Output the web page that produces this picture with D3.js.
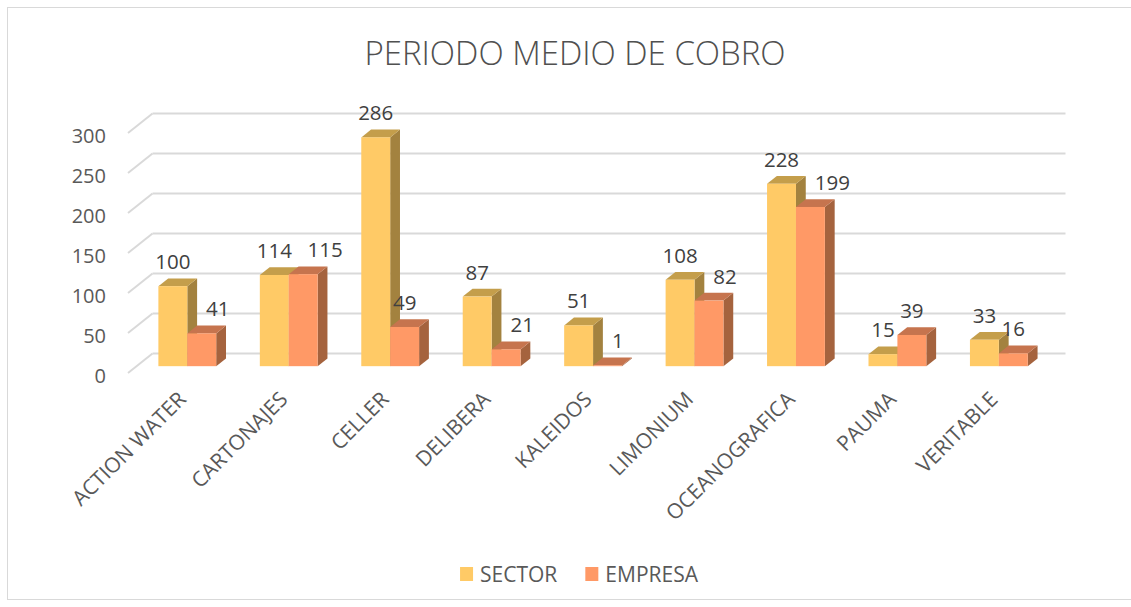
<!DOCTYPE html>
<html>
<head>
<meta charset="utf-8">
<script src="https://cdn.jsdelivr.net/npm/d3@7"></script>
<style>
  html, body { margin: 0; padding: 0; background: #fff; }
  svg { display: block; }
</style>
</head>
<body>
<div id="chart"></div>
<script>
// ── Data ──
const categories = ['ACTION WATER', 'CARTONAJES', 'CELLER', 'DELIBERA', 'KALEIDOS',
                    'LIMONIUM', 'OCEANOGRAFICA', 'PAUMA', 'VERITABLE'];
const seriesNames = ['SECTOR', 'EMPRESA'];
const sectorValues = [100, 114, 286, 87, 51, 108, 228, 15, 33];
const empresaValues = [41, 115, 49, 21, 1, 82, 199, 39, 16];
const yTicks = [0, 50, 100, 150, 200, 250, 300];

// face colours: front, top, side
const COLORS = {
    SECTOR:  { front: '#FFCA66', top: '#C49E4B', side: '#A3823F' },
    EMPRESA: { front: '#FF9966', top: '#C6744E', side: '#A5633E' },
};
const FONT = "'Open Sans', 'Noto Sans', sans-serif";
const TEXT = '#595959';

const width = 1131, height = 607;

// oblique 3D projection: depth d in [0,1], front -> back wall
const DX = 24.5, DY = -19.5;
const floorLeft = 128, floorRight = 1041;
const barD0 = 0.35, barD1 = 0.75;

const svg = d3.select('#chart').append('svg')
    .attr('width', width).attr('height', height);

// outer frame
svg.append('rect')
    .attr('x', 7.5).attr('y', 7.5)
    .attr('width', 1140).attr('height', 592)
    .attr('fill', '#fff').attr('stroke', '#d9d9d9');

// title
svg.append('text')
    .attr('x', 575).attr('y', 52)
    .attr('text-anchor', 'middle').attr('dominant-baseline', 'central')
    .attr('font-family', FONT).attr('font-size', '33px').attr('font-weight', 300)
    .attr('fill', '#505050')
    .text('PERIODO MEDIO DE COBRO');

// scales (front plane)
const x = d3.scaleBand().domain(categories)
    .range([floorLeft, floorRight])
    .paddingInner(0.43).paddingOuter(0.215);
const xSub = d3.scaleBand().domain(seriesNames).range([0, x.bandwidth()]);
const y = d3.scaleLinear().domain([0, 300]).range([373, 133]);

const proj = (px, py, d) => [px + DX * d, py + DY * d];

// ── Walls: gridlines on back wall + diagonals on side wall ──
const grid = svg.append('g')
    .attr('stroke', '#d9d9d9').attr('stroke-width', 2).attr('fill', 'none');
yTicks.forEach(t => {
    const [bx0, by] = proj(floorLeft, y(t), 1);
    const [bx1] = proj(floorRight, y(t), 1);
    grid.append('line').attr('x1', floorLeft).attr('y1', y(t)).attr('x2', bx0).attr('y2', by);
    grid.append('line').attr('x1', bx0).attr('y1', by).attr('x2', bx1).attr('y2', by);
});

// y tick labels
svg.append('g').selectAll('text')
    .data(yTicks)
    .join('text')
    .attr('x', 106).attr('y', d => y(d) + 2)
    .attr('text-anchor', 'end').attr('dominant-baseline', 'central')
    .attr('font-family', FONT).attr('font-size', '20px').attr('fill', TEXT)
    .text(d => d);

// ── Bars ──
const rows = categories.map((c, i) => ({
    cat: c,
    vals: [
        { key: 'SECTOR', value: sectorValues[i] },
        { key: 'EMPRESA', value: empresaValues[i] },
    ],
}));

const bdx = DX * (barD1 - barD0), bdy = DY * (barD1 - barD0);
const bw = xSub.bandwidth();

function barGeom(cat, key, value) {
    const [x0, yTop] = proj(x(cat) + xSub(key), y(value), barD0);
    const [, yBot] = proj(0, y(0), barD0);
    return { x0, x1: x0 + bw, yTop, yBot };
}

const barsG = svg.append('g');
rows.forEach(r => {
    r.vals.forEach(v => {
        const g = barGeom(r.cat, v.key, v.value);
        const c = COLORS[v.key];
        const bar = barsG.append('g');
        bar.append('polygon')
            .attr('points', [[g.x1, g.yTop], [g.x1 + bdx, g.yTop + bdy],
                             [g.x1 + bdx, g.yBot + bdy], [g.x1, g.yBot]].join(' '))
            .attr('fill', c.side);
        bar.append('polygon')
            .attr('points', [[g.x0, g.yTop], [g.x0 + bdx, g.yTop + bdy],
                             [g.x1 + bdx, g.yTop + bdy], [g.x1, g.yTop]].join(' '))
            .attr('fill', c.top);
        bar.append('rect')
            .attr('x', g.x0).attr('y', g.yTop)
            .attr('width', bw).attr('height', Math.max(0, g.yBot - g.yTop))
            .attr('fill', c.front);
    });
});

// ── Value labels ──
const labelsG = svg.append('g')
    .attr('font-family', FONT).attr('font-size', '20.5px').attr('fill', '#404040')
    .attr('text-anchor', 'middle').attr('dominant-baseline', 'central');

rows.forEach(r => {
    const gs = barGeom(r.cat, 'SECTOR', r.vals[0].value);
    const ge = barGeom(r.cat, 'EMPRESA', r.vals[1].value);

    const sLab = labelsG.append('text')
        .attr('x', (gs.x0 + gs.x1) / 2).attr('y', gs.yTop - 25)
        .text(r.vals[0].value);
    const eLab = labelsG.append('text')
        .attr('x', (ge.x0 + ge.x1) / 2).attr('y', ge.yTop - 25)
        .text(r.vals[1].value);

    // nudge EMPRESA label right when it collides with the SECTOR bar or label
    const sW = sLab.node().getComputedTextLength();
    const eW = eLab.node().getComputedTextLength();
    const eCx = (ge.x0 + ge.x1) / 2, eCy = ge.yTop - 25;
    const sideRight = gs.x1 + bdx;
    const sectorTall = r.vals[0].value > 0.9 * y.domain()[1];
    const hitsBar = eCy > gs.yTop + bdy && eCx - eW / 2 < sideRight;
    const hitsLabel = Math.abs(eCy - (gs.yTop - 25)) < 17 &&
        eCx - eW / 2 < (gs.x0 + gs.x1) / 2 + sW / 2;
    if (!sectorTall && (hitsBar || hitsLabel)) {
        eLab.attr('x', sideRight + 9 + eW / 2);
    }
});

// ── Category labels ──
svg.append('g').selectAll('text')
    .data(categories)
    .join('text')
    .attr('transform', d => `translate(${x(d) + x.bandwidth() / 2 + 3},395) rotate(-45)`)
    .attr('text-anchor', 'end').attr('dominant-baseline', 'central')
    .attr('font-family', FONT).attr('font-size', '21px').attr('fill', TEXT)
    .text(d => d);

// ── Legend ──
const legend = svg.append('g').attr('font-family', FONT).attr('font-size', '21px');
let lx = 0;
seriesNames.forEach(name => {
    const g = legend.append('g').attr('transform', `translate(${lx},0)`);
    g.append('rect').attr('x', 0).attr('y', -7).attr('width', 13).attr('height', 14)
        .attr('fill', COLORS[name].front);
    const t = g.append('text').attr('x', 20).attr('y', 0)
        .attr('dominant-baseline', 'central').attr('fill', TEXT).text(name);
    lx += 20 + t.node().getComputedTextLength() + 28;
});
const legendW = lx - 28;
legend.attr('transform', `translate(${579 - legendW / 2},574)`);
</script>
</body>
</html>
